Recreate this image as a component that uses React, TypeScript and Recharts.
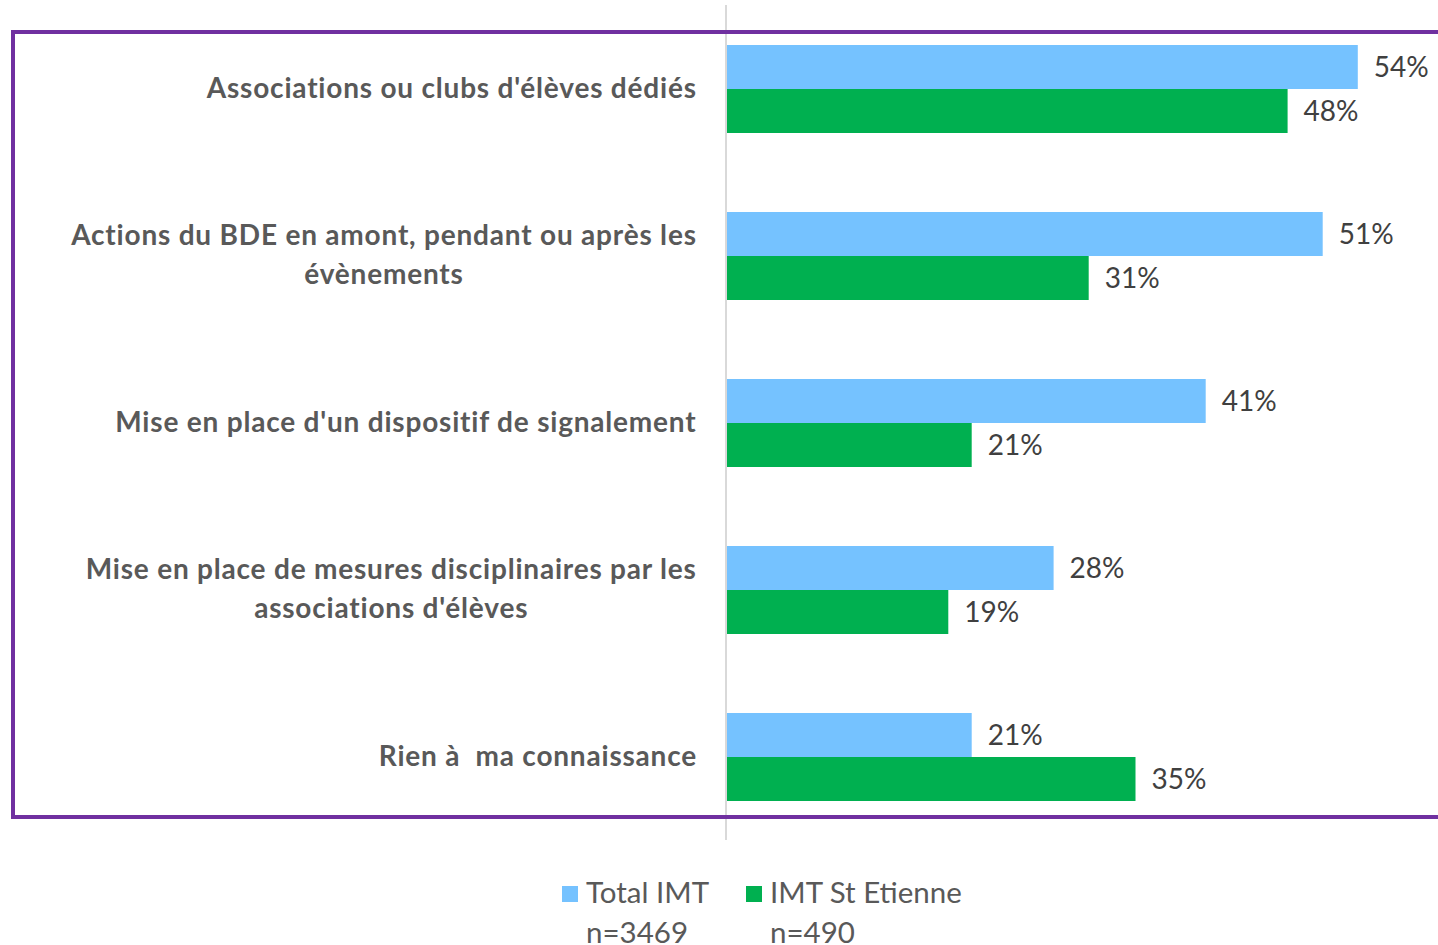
import React from "react";
import { Bar, BarChart, LabelList, XAxis, YAxis } from "recharts";

const categories = [
  "Associations ou clubs d'élèves dédiés",
  "Actions du BDE en amont, pendant ou après les\névènements",
  "Mise en place d'un dispositif de signalement",
  "Mise en place de mesures disciplinaires par les\nassociations d'élèves",
  "Rien à  ma connaissance",
];
const totalImt = [54, 51, 41, 28, 21];
const stEtienne = [48, 31, 21, 19, 35];
const seriesNames = ["Total IMT", "IMT St Etienne"];
const seriesCounts = ["n=3469", "n=490"];

const BLUE = "#75C2FF";
const GREEN = "#00B050";
const LABEL_SIZE = 28;
const LABEL_LS = 0.8;

const data = categories.map((name, i) => ({
  name,
  total: totalImt[i],
  ste: stEtienne[i],
}));

let ctx: CanvasRenderingContext2D | null = null;
function measure(text: string) {
  if (!ctx) ctx = document.createElement("canvas").getContext("2d");
  if (!ctx) return text.length * 13;
  ctx.font = `bold ${LABEL_SIZE}px Lato`;
  return ctx.measureText(text).width + text.length * LABEL_LS;
}

const CategoryTick = (props: any) => {
  const { y, payload } = props;
  const lines: string[] = String(payload.value).split("\n");
  const right = 697;
  const maxW = Math.max(...lines.map(measure));
  const cx = right - maxW / 2;
  const lh = 39;
  const y0 = y - ((lines.length - 1) * lh) / 2 - 2;
  return (
    <text
      textAnchor="middle"
      fill="#595959"
      fontFamily="Lato"
      fontWeight="bold"
      fontSize={LABEL_SIZE}
      letterSpacing={LABEL_LS}
      style={{ whiteSpace: "pre" }}
    >
      {lines.map((l, i) => (
        <tspan key={i} x={cx} y={y0 + i * lh} dominantBaseline="central">
          {l}
        </tspan>
      ))}
    </text>
  );
};

export default function App() {
  return (
    <div style={{ position: "absolute", left: 0, top: 0, width: 1438, height: 945, background: "#fff", overflow: "hidden" }}>
      <BarChart
        width={1438}
        height={945}
        data={data}
        layout="vertical"
        margin={{ top: 5, right: 10, left: 0, bottom: 105 }}
        barGap={0}
      >
        <XAxis type="number" domain={[0, 60]} hide />
        <YAxis
          type="category"
          dataKey="name"
          width={726}
          axisLine={{ stroke: "#D9D9D9", strokeWidth: 2 }}
          tickLine={false}
          tick={<CategoryTick />}
          interval={0}
        />
        <Bar dataKey="total" name={seriesNames[0]} fill={BLUE} barSize={44} isAnimationActive={false}>
          <LabelList dataKey="total" position="right" offset={16} formatter={(v: any) => `${v}%`} fill="#404040" fontSize={28} fontFamily="Lato" />
        </Bar>
        <Bar dataKey="ste" name={seriesNames[1]} fill={GREEN} barSize={44} isAnimationActive={false}>
          <LabelList dataKey="ste" position="right" offset={16} formatter={(v: any) => `${v}%`} fill="#404040" fontSize={28} fontFamily="Lato" />
        </Bar>
      </BarChart>
      <div
        style={{
          position: "absolute",
          left: 11,
          top: 30,
          width: 1440,
          height: 781,
          border: "4px solid #7030A0",
          pointerEvents: "none",
        }}
      />
      <div style={{ position: "absolute", left: 0, top: 872, width: 1438, height: 73, fontFamily: "Lato", color: "#595959", fontSize: 29.5 }}>
        {[BLUE, GREEN].map((c, i) => (
          <div key={i} style={{ position: "absolute", left: i === 0 ? 562 : 746, top: 0 }}>
            <div style={{ position: "absolute", left: 0, top: 14, width: 16, height: 16, background: c }} />
            <div style={{ position: "absolute", left: 24, top: 0, whiteSpace: "nowrap", lineHeight: "40px" }}>
              {seriesNames[i]}
              <br />
              {seriesCounts[i]}
            </div>
          </div>
        ))}
      </div>
    </div>
  );
}
